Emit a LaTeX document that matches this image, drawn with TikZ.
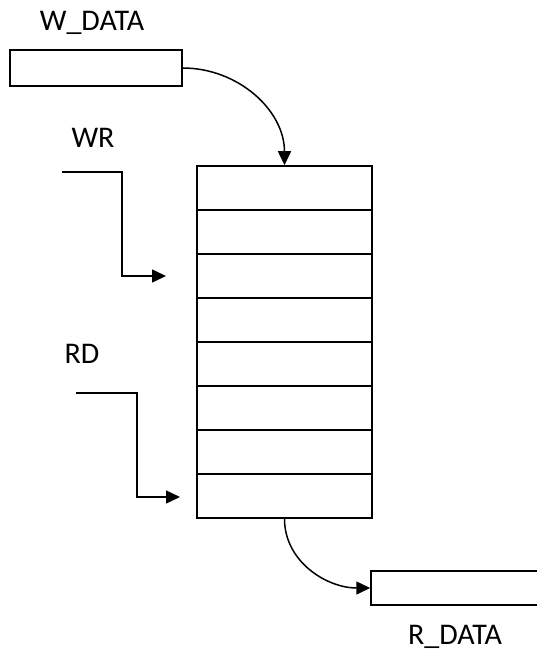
\documentclass[tikz,border=0pt]{standalone}
\usepackage{fontspec}
\setmainfont{Carlito}
\usetikzlibrary{arrows.meta}

\tikzset{
  box/.style={draw, line width=1.5pt, minimum width=#1, minimum height=36pt, inner sep=0pt},
  cell/.style={draw, line width=1.5pt, minimum width=175pt, minimum height=44pt, inner sep=0pt},
  sig/.style={line width=1.5pt, -{Triangle[length=14pt,width=13pt]}},
  lbl/.style={font=\fontsize{30}{34}\selectfont, inner sep=0pt}
}

\begin{document}
\begin{tikzpicture}[x=1pt, y=-1pt]
  \useasboundingbox (0,0) rectangle (536,655);

  % Memory stack
  \foreach \i in {1,...,8}
    \node[cell] (c\i) at (284.5, 144+44*\i) {};

  % Data registers
  \node[box=172pt] (wdata) at (96, 68) {};
  \node[lbl] (wdatalbl) at (92, 23) {W\_DATA};
  \node[box=200pt, minimum height=34pt] (rdata) at (471, 588) {};
  \node[lbl] (rdatalbl) at (455, 637) {R\_DATA};

  % Control inputs
  \node[lbl] (wrlbl) at (93, 138) {WR};
  \coordinate (wrin)  at (62, 172);
  \coordinate (wrend) at (166, 276);
  \node[lbl] (rdlbl) at (82, 354) {RD};
  \coordinate (rdin)  at (76, 393);
  \coordinate (rdend) at (180, 497);

  % Connections
  \draw[sig] (wdata.east) to[out=0, in=90] (c1.north);
  \draw[sig] (wrin) -| ([xshift=-44pt]wrend) -- (wrend);
  \draw[sig] (rdin) -| ([xshift=-43pt]rdend) -- (rdend);
  \draw[sig] (c8.south) to[out=-90, in=180] (rdata.west);
\end{tikzpicture}
\end{document}
